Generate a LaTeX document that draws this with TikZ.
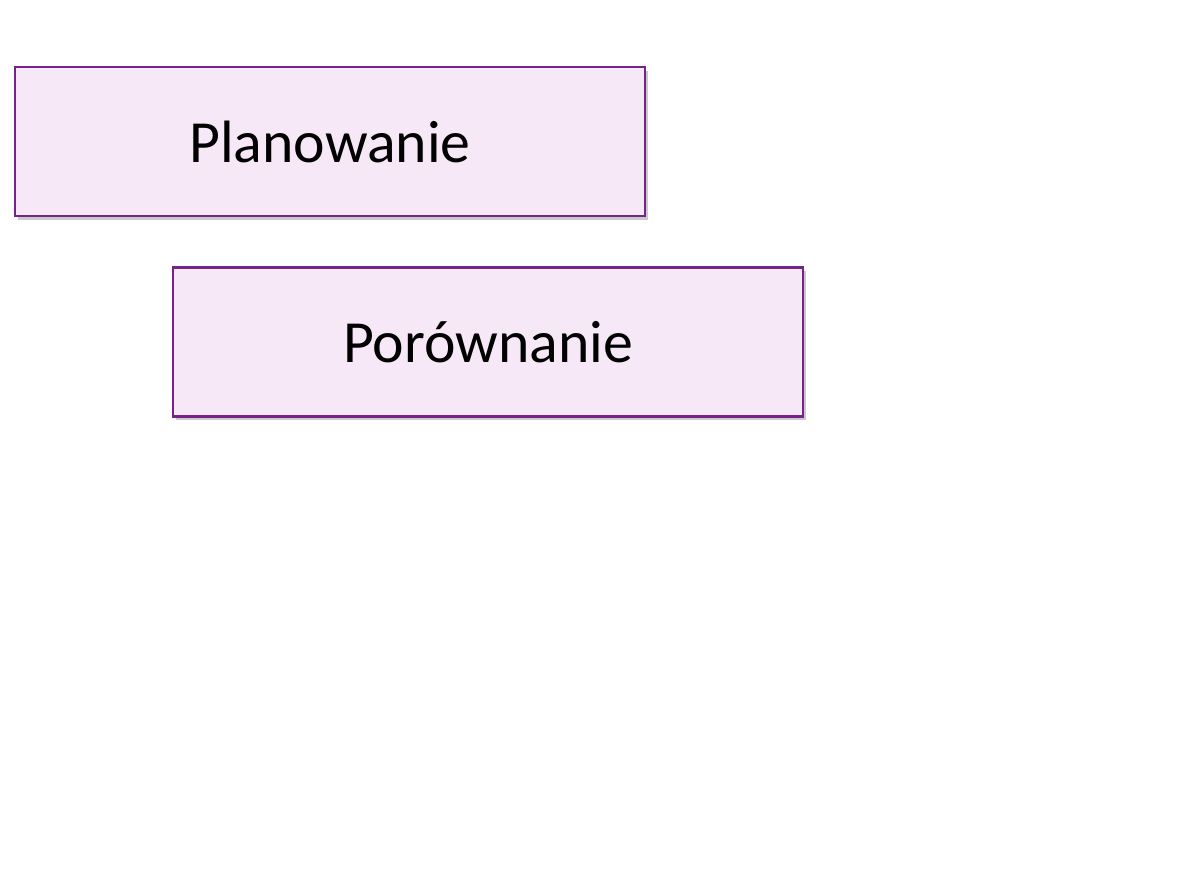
\documentclass[tikz,border=0pt]{standalone}
\usepackage{fontspec}
\setmainfont{Carlito}
\usetikzlibrary{positioning,shadows}
\definecolor{boxfill}{HTML}{F7E8F8}
\definecolor{boxline}{HTML}{74238A}
\tikzset{
  stage/.style={draw=boxline,line width=1.5pt,fill=boxfill,
    minimum width=12.6cm,minimum height=2.98cm,inner sep=0pt,
    font=\fontsize{34}{40}\selectfont,
    drop shadow={shadow xshift=0.05cm,shadow yshift=-0.07cm,opacity=0.3,fill=black!70}}
}
\begin{document}
\begin{tikzpicture}
    \useasboundingbox (0,0) rectangle (23.86,-17.92);
    \node[stage] (plan) at (6.6,-2.83) {Planowanie};
    \node[stage,below=0.98cm of plan,xshift=3.16cm] (comp) {Porównanie};
\end{tikzpicture}
\end{document}
